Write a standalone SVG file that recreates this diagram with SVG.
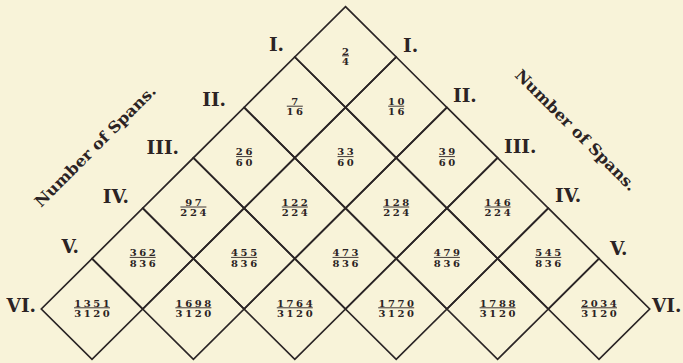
<svg xmlns="http://www.w3.org/2000/svg" xmlns:xlink="http://www.w3.org/1999/xlink" width="683" height="363" viewBox="0 0 683 363">
<style>
.bg{fill:#f8f3d9}
.cell{fill:none;stroke:#2b2526;stroke-width:1.7;stroke-linejoin:miter}
.fr{font-family:"DejaVu Serif","Liberation Serif",serif;font-weight:bold;font-size:10px;fill:#2b2324;text-anchor:middle;letter-spacing:2.6px}
.bar{stroke:#2b2324;stroke-width:0.9}
.rl{font-family:"DejaVu Serif","Liberation Serif",serif;font-weight:bold;font-size:18.5px;fill:#2b2324}
.l{text-anchor:end}
.r{text-anchor:start}
.sp{font-family:"DejaVu Serif","Liberation Serif",serif;font-weight:bold;font-size:15.5px;fill:#2b2324}
</style>
<defs>
<path id="dm" d="M0,-50.4 L50.7,0 L0,50.4 L-50.7,0Z"/>
</defs>
<rect class="bg" width="683" height="363"/>

<g id="grid">
<g id="n-1-1"><use xlink:href="#dm" class="cell" x="345.5" y="57"/>
<text class="fr" x="346.8" y="54.5">2</text><line class="bar" x1="342" y1="55.8" x2="349" y2="55.8"/><text class="fr" x="346.8" y="65">4</text></g>
<g id="n-2-1"><use xlink:href="#dm" class="cell" x="294.8" y="107.4"/>
<text class="fr" x="296.1" y="104.9">7</text><line class="bar" x1="286.8" y1="106.2" x2="302.8" y2="106.2"/><text class="fr" x="296.1" y="115.4">16</text></g>
<g id="n-2-2"><use xlink:href="#dm" class="cell" x="396.2" y="107.4"/>
<text class="fr" x="397.5" y="104.9">10</text><line class="bar" x1="388.2" y1="106.2" x2="404.2" y2="106.2"/><text class="fr" x="397.5" y="115.4">16</text></g>
<g id="n-3-1"><use xlink:href="#dm" class="cell" x="244.1" y="157.8"/>
<text class="fr" x="245.4" y="155.3">26</text><line class="bar" x1="236.1" y1="156.6" x2="252.1" y2="156.6"/><text class="fr" x="245.4" y="165.8">60</text></g>
<g id="n-3-2"><use xlink:href="#dm" class="cell" x="345.5" y="157.8"/>
<text class="fr" x="346.8" y="155.3">33</text><line class="bar" x1="337.5" y1="156.6" x2="353.5" y2="156.6"/><text class="fr" x="346.8" y="165.8">60</text></g>
<g id="n-3-3"><use xlink:href="#dm" class="cell" x="446.9" y="157.8"/>
<text class="fr" x="448.2" y="155.3">39</text><line class="bar" x1="438.9" y1="156.6" x2="454.9" y2="156.6"/><text class="fr" x="448.2" y="165.8">60</text></g>
<g id="n-4-1"><use xlink:href="#dm" class="cell" x="193.4" y="208.2"/>
<text class="fr" x="194.7" y="205.7">97</text><line class="bar" x1="180.4" y1="207" x2="206.4" y2="207"/><text class="fr" x="194.7" y="216.2">224</text></g>
<g id="n-4-2"><use xlink:href="#dm" class="cell" x="294.8" y="208.2"/>
<text class="fr" x="296.1" y="205.7">122</text><line class="bar" x1="281.8" y1="207" x2="307.8" y2="207"/><text class="fr" x="296.1" y="216.2">224</text></g>
<g id="n-4-3"><use xlink:href="#dm" class="cell" x="396.2" y="208.2"/>
<text class="fr" x="397.5" y="205.7">128</text><line class="bar" x1="383.2" y1="207" x2="409.2" y2="207"/><text class="fr" x="397.5" y="216.2">224</text></g>
<g id="n-4-4"><use xlink:href="#dm" class="cell" x="497.6" y="208.2"/>
<text class="fr" x="498.9" y="205.7">146</text><line class="bar" x1="484.6" y1="207" x2="510.6" y2="207"/><text class="fr" x="498.9" y="216.2">224</text></g>
<g id="n-5-1"><use xlink:href="#dm" class="cell" x="142.7" y="258.6"/>
<text class="fr" x="144" y="256.1">362</text><line class="bar" x1="129.7" y1="257.4" x2="155.7" y2="257.4"/><text class="fr" x="144" y="266.6">836</text></g>
<g id="n-5-2"><use xlink:href="#dm" class="cell" x="244.1" y="258.6"/>
<text class="fr" x="245.4" y="256.1">455</text><line class="bar" x1="231.1" y1="257.4" x2="257.1" y2="257.4"/><text class="fr" x="245.4" y="266.6">836</text></g>
<g id="n-5-3"><use xlink:href="#dm" class="cell" x="345.5" y="258.6"/>
<text class="fr" x="346.8" y="256.1">473</text><line class="bar" x1="332.5" y1="257.4" x2="358.5" y2="257.4"/><text class="fr" x="346.8" y="266.6">836</text></g>
<g id="n-5-4"><use xlink:href="#dm" class="cell" x="446.9" y="258.6"/>
<text class="fr" x="448.2" y="256.1">479</text><line class="bar" x1="433.9" y1="257.4" x2="459.9" y2="257.4"/><text class="fr" x="448.2" y="266.6">836</text></g>
<g id="n-5-5"><use xlink:href="#dm" class="cell" x="548.3" y="258.6"/>
<text class="fr" x="549.6" y="256.1">545</text><line class="bar" x1="535.3" y1="257.4" x2="561.3" y2="257.4"/><text class="fr" x="549.6" y="266.6">836</text></g>
<g id="n-6-1"><use xlink:href="#dm" class="cell" x="92" y="309"/>
<text class="fr" x="93.3" y="306.5">1351</text><line class="bar" x1="74" y1="307.8" x2="110" y2="307.8"/><text class="fr" x="93.3" y="317">3120</text></g>
<g id="n-6-2"><use xlink:href="#dm" class="cell" x="193.4" y="309"/>
<text class="fr" x="194.7" y="306.5">1698</text><line class="bar" x1="175.4" y1="307.8" x2="211.4" y2="307.8"/><text class="fr" x="194.7" y="317">3120</text></g>
<g id="n-6-3"><use xlink:href="#dm" class="cell" x="294.8" y="309"/>
<text class="fr" x="296.1" y="306.5">1764</text><line class="bar" x1="276.8" y1="307.8" x2="312.8" y2="307.8"/><text class="fr" x="296.1" y="317">3120</text></g>
<g id="n-6-4"><use xlink:href="#dm" class="cell" x="396.2" y="309"/>
<text class="fr" x="397.5" y="306.5">1770</text><line class="bar" x1="378.2" y1="307.8" x2="414.2" y2="307.8"/><text class="fr" x="397.5" y="317">3120</text></g>
<g id="n-6-5"><use xlink:href="#dm" class="cell" x="497.6" y="309"/>
<text class="fr" x="498.9" y="306.5">1788</text><line class="bar" x1="479.6" y1="307.8" x2="515.6" y2="307.8"/><text class="fr" x="498.9" y="317">3120</text></g>
<g id="n-6-6"><use xlink:href="#dm" class="cell" x="599" y="309"/>
<text class="fr" x="600.3" y="306.5">2034</text><line class="bar" x1="581" y1="307.8" x2="617" y2="307.8"/><text class="fr" x="600.3" y="317">3120</text></g>
</g>

<g id="labels-left">
<text class="rl l" x="284" y="51">I.</text>
<text class="rl l" x="226" y="106">II.</text>
<text class="rl l" x="179" y="154">III.</text>
<text class="rl l" x="129" y="203">IV.</text>
<text class="rl l" x="79" y="253">V.</text>
<text class="rl l" x="36" y="312">VI.</text>
<text class="sp" transform="translate(41,208) rotate(-45)" textLength="164" lengthAdjust="spacingAndGlyphs">Number of Spans.</text>
</g>
<g id="labels-right">
<text class="rl r" x="403" y="52">I.</text>
<text class="rl r" x="453" y="102">II.</text>
<text class="rl r" x="504" y="153">III.</text>
<text class="rl r" x="555" y="202">IV.</text>
<text class="rl r" x="610" y="255">V.</text>
<text class="rl r" x="652" y="312">VI.</text>
<text class="sp" transform="translate(514,76) rotate(45)" textLength="164" lengthAdjust="spacingAndGlyphs">Number of Spans.</text>
</g>
</svg>
